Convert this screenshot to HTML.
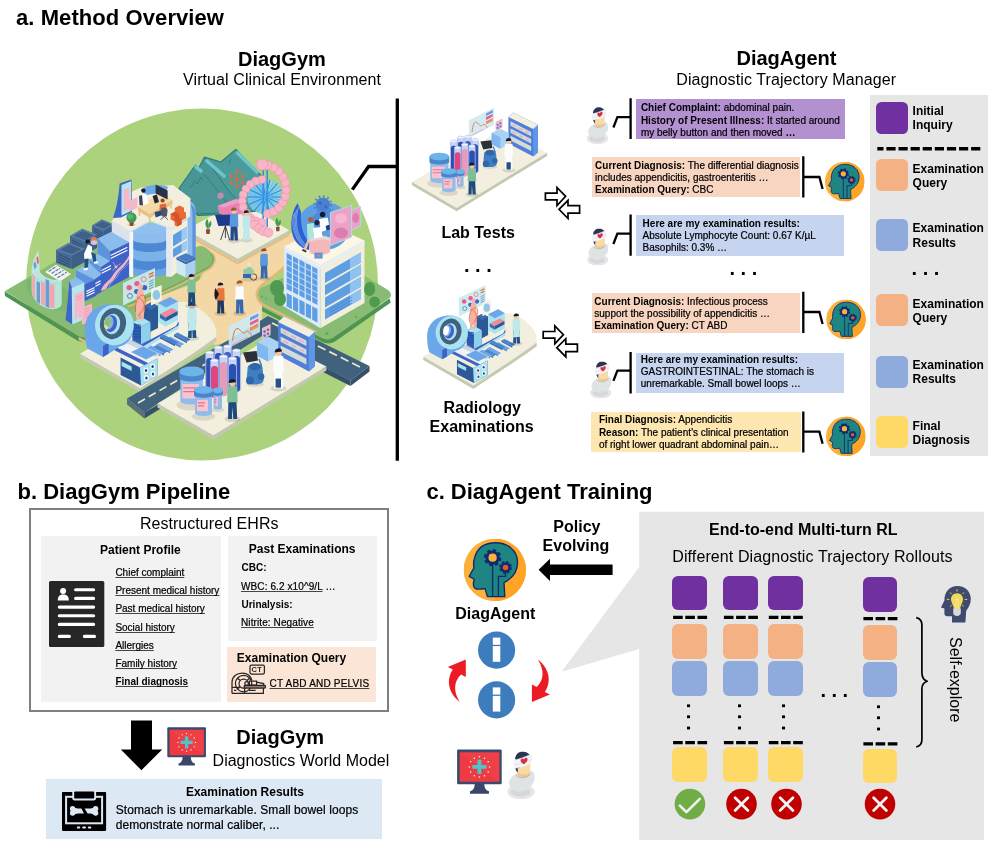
<!DOCTYPE html>
<html lang="en">
<head>
<meta charset="utf-8">
<title>DiagGym and DiagAgent - Method Overview</title>
<style>
html,body{margin:0;padding:0;background:#fff;}
body{width:997px;height:849px;position:relative;overflow:hidden;font-family:"Liberation Sans",sans-serif;color:#000;}
.t{position:absolute;white-space:nowrap;margin:0;}
#txt{position:absolute;left:0;top:0;width:997px;height:849px;will-change:transform;}
.r{position:absolute;}
svg{position:absolute;left:0;top:0;overflow:visible;}
u{text-decoration:underline;text-decoration-thickness:0.8px;text-underline-offset:0.6px;text-decoration-skip-ink:none;text-decoration-color:#444;}
.n{-webkit-text-stroke:0.22px #000;}
.n b{-webkit-text-stroke:0;}
</style>
</head>
<body>
<div class="r" style="left:636.00px;top:99.00px;width:208.60px;height:39.80px;background:#b391d1;"></div>
<div class="r" style="left:591.60px;top:156.80px;width:208.70px;height:40.20px;background:#f8d5c0;"></div>
<div class="r" style="left:636.00px;top:215.00px;width:208.40px;height:40.50px;background:#c6d4ef;"></div>
<div class="r" style="left:591.60px;top:292.80px;width:208.70px;height:40.20px;background:#f8d5c0;"></div>
<div class="r" style="left:636.00px;top:352.60px;width:208.20px;height:40.60px;background:#c6d4ef;"></div>
<div class="r" style="left:591.40px;top:411.90px;width:209.20px;height:40.00px;background:#fee6b0;"></div>
<div class="r" style="left:870.20px;top:95.10px;width:118.10px;height:361.20px;background:#e6e6e6;"></div>
<div class="r" style="left:876.20px;top:102.40px;width:32.00px;height:31.60px;background:#7030a0;border-radius:5.5px;"></div>
<div class="r" style="left:876.20px;top:159.40px;width:32.00px;height:31.60px;background:#f4b183;border-radius:5.5px;"></div>
<div class="r" style="left:876.20px;top:219.00px;width:32.00px;height:31.60px;background:#8faadc;border-radius:5.5px;"></div>
<div class="r" style="left:876.20px;top:294.20px;width:32.00px;height:31.60px;background:#f4b183;border-radius:5.5px;"></div>
<div class="r" style="left:876.20px;top:356.00px;width:32.00px;height:31.60px;background:#8faadc;border-radius:5.5px;"></div>
<div class="r" style="left:876.20px;top:416.40px;width:32.00px;height:31.60px;background:#ffd966;border-radius:5.5px;"></div>
<div class="r" style="left:29.2px;top:508.4px;width:356.2px;height:199.6px;border:2px solid #7f7f7f;"></div>
<div class="r" style="left:41.20px;top:536.30px;width:179.60px;height:165.40px;background:#f2f2f2;"></div>
<div class="r" style="left:227.90px;top:535.50px;width:149.00px;height:105.40px;background:#f2f2f2;"></div>
<div class="r" style="left:227.10px;top:647.10px;width:149.00px;height:54.90px;background:#fbe5d6;"></div>
<div class="r" style="left:46.30px;top:779.20px;width:335.50px;height:60.30px;background:#dde8f5;"></div>
<svg width="997" height="849" viewBox="0 0 997 849"><path d="M639.2 511.8H984.1V839.9H639.2V648.9L561.6 671.7L639.2 567Z" fill="#e6e6e6"/></svg>
<div class="r" style="left:672.30px;top:575.80px;width:34.80px;height:34.50px;background:#7030a0;border-radius:6px;"></div>
<div class="r" style="left:672.30px;top:624.00px;width:34.80px;height:34.50px;background:#f4b183;border-radius:6px;"></div>
<div class="r" style="left:672.30px;top:661.00px;width:34.80px;height:34.50px;background:#8faadc;border-radius:6px;"></div>
<div class="r" style="left:672.30px;top:747.40px;width:34.80px;height:34.50px;background:#ffd966;border-radius:6px;"></div>
<div class="r" style="left:723.10px;top:575.80px;width:34.80px;height:34.50px;background:#7030a0;border-radius:6px;"></div>
<div class="r" style="left:723.10px;top:624.00px;width:34.80px;height:34.50px;background:#f4b183;border-radius:6px;"></div>
<div class="r" style="left:723.10px;top:661.00px;width:34.80px;height:34.50px;background:#8faadc;border-radius:6px;"></div>
<div class="r" style="left:723.10px;top:747.40px;width:34.80px;height:34.50px;background:#ffd966;border-radius:6px;"></div>
<div class="r" style="left:768.00px;top:575.80px;width:34.80px;height:34.50px;background:#7030a0;border-radius:6px;"></div>
<div class="r" style="left:768.00px;top:624.00px;width:34.80px;height:34.50px;background:#f4b183;border-radius:6px;"></div>
<div class="r" style="left:768.00px;top:661.00px;width:34.80px;height:34.50px;background:#8faadc;border-radius:6px;"></div>
<div class="r" style="left:768.00px;top:747.40px;width:34.80px;height:34.50px;background:#ffd966;border-radius:6px;"></div>
<div class="r" style="left:862.60px;top:577.00px;width:34.80px;height:34.50px;background:#7030a0;border-radius:6px;"></div>
<div class="r" style="left:862.60px;top:625.20px;width:34.80px;height:34.50px;background:#f4b183;border-radius:6px;"></div>
<div class="r" style="left:862.60px;top:662.20px;width:34.80px;height:34.50px;background:#8faadc;border-radius:6px;"></div>
<div class="r" style="left:862.60px;top:748.60px;width:34.80px;height:34.50px;background:#ffd966;border-radius:6px;"></div>
<svg width="997" height="849" viewBox="0 0 997 849">
<g id="city">
<circle cx="202" cy="284.5" r="176" fill="#acd27d"/>
<path d="M5 291L60 259L120 226L200 262L200 300L130 344L84 341Z" fill="#88bb73" />
<path d="M4.6 291.2L79 336.6L85 338L85 342.5L78 341L5 296Z" fill="#4f9452" />
<path d="M79 337L85.5 340.5L85 343L78.5 340Z" fill="#e8b57c" />
<ellipse cx="50" cy="294" rx="26" ry="13" transform="rotate(28 50 294)" fill="#7db46b"/>
<path d="M253 297C254 291 260 288 268 285L330 255L388 290C392 293 392 297 388 299L334 337C330 340 326 340 322 338L260 306C254 303 252 300 253 297Z" fill="#88bb73" />
<path d="M256 304L322 338C326 340 330 340 334 337L389.5 298.5L390.8 302.5L335 341.5C331 344 326 344 322 342L258 309Z" fill="#4f9452" />
<path d="M180 262L200 236L240 262L296 230L300 252L262 285C256 291 256 297 262 303L262 335L215 345L190 318L140 304L196 282C204 278 206 268 200 262Z" fill="#f3d7a4" />
<path d="M118 300L150 280L196 247C202 244 207 248 212 253C216 258 215 264 210 268L190 279C172 289 150 298 128 306Z" fill="#88bb73" />
<path d="M128 306C150 298 172 289 190 279L210 268C215 264 216 258 212 253" fill="none" stroke="#e3b877" stroke-width="2.4"/>
<path d="M128 304.5C150 296.5 172 287.5 190 277.5L209 267C214 263 214.6 258 211 254" fill="none" stroke="#6fae64" stroke-width="1.6"/>
<path d="M300 256L262 285C255 291 255 298 262 304L316 332" fill="none" stroke="#e3b877" stroke-width="2.4"/>
<path d="M186 230L240 200L289.3 230.6L237.7 258.9Z" fill="#f3efdf" />
<path d="M186 230L237.7 258.9L289.3 230.6L289.3 233.6L237.7 262L186 233Z" fill="#c3cab5" />
<path d="M186 233L237.7 262L289.3 233.6L289.3 236L237.7 264.6L186 235.6Z" fill="#e8bd80" />
<path d="M179 188.5L195.4 165.2L198.8 168L204.6 157L220.9 162L235.8 149.3L264 178.5L266 210L232 214L198 215.5L190 208Z" fill="#4b9b9a" stroke="#2b7778" stroke-width="1.1" stroke-linejoin="round"/>
<path d="M204.6 157L228 190L248 212L196 214L190 208L179 188.5L195.4 165.2L198.8 168Z" fill="#4a9696" stroke="#2b7778" stroke-width="0.9" stroke-linejoin="round"/>
<path d="M207 161L224 176M196 167L201 171M237.5 153L257 172" fill="none" stroke="#6cc6ca" stroke-width="3.6" stroke-linecap="round"/>
<path d="M190 188L195 181L197 184L201 177L203 180M231 158L229 164M204 174L214 186L232 210" fill="none" stroke="#2f7d7d" stroke-width="0.9"/>
<g stroke="#e8683a" stroke-width="0.7" fill="#e8683a"><path d="M231 176L237 171L243 176L243 183L237 187L231 183ZM231 176L243 183M243 176L231 183M237 171V187" fill="none"/><circle cx="231" cy="176" r="1.2"/><circle cx="237" cy="171" r="1.2"/><circle cx="243" cy="176" r="1.2"/><circle cx="243" cy="183" r="1.2"/><circle cx="237" cy="187" r="1.2"/><circle cx="231" cy="183" r="1.2"/><circle cx="237" cy="179" r="1.2"/></g>
<circle cx="220.5" cy="195.8" r="3.2" fill="#d68bb8" opacity="0.85"/>
<path d="M217.6 206L236 199L242 201.5L242 214L224 216L219 213Z" fill="#e782b5" />
<path d="M217.6 206L236 199L242 201.5L224 207.5Z" fill="#f09fc7" />
<ellipse cx="265.8" cy="197" rx="18.6" ry="17.6" fill="#8fd2f2" opacity="0.75"/>
<g fill="none"><path d="M265.8 197.0L284.3 197.0" stroke="#2f86e6" stroke-width="1.15"/><path d="M265.8 197.0L283.8 200.9" stroke="#5fc4f5" stroke-width="1.15"/><path d="M265.8 197.0L282.5 204.6" stroke="#2f86e6" stroke-width="1.15"/><path d="M265.8 197.0L280.3 207.9" stroke="#5fc4f5" stroke-width="1.15"/><path d="M265.8 197.0L277.3 210.7" stroke="#2f86e6" stroke-width="1.15"/><path d="M265.8 197.0L273.8 212.8" stroke="#5fc4f5" stroke-width="1.15"/><path d="M265.8 197.0L269.9 214.1" stroke="#2f86e6" stroke-width="1.15"/><path d="M265.8 197.0L265.8 214.5" stroke="#5fc4f5" stroke-width="1.15"/><path d="M265.8 197.0L261.7 214.1" stroke="#2f86e6" stroke-width="1.15"/><path d="M265.8 197.0L257.8 212.8" stroke="#5fc4f5" stroke-width="1.15"/><path d="M265.8 197.0L254.3 210.7" stroke="#2f86e6" stroke-width="1.15"/><path d="M265.8 197.0L251.3 207.9" stroke="#5fc4f5" stroke-width="1.15"/><path d="M265.8 197.0L249.1 204.6" stroke="#2f86e6" stroke-width="1.15"/><path d="M265.8 197.0L247.8 200.9" stroke="#5fc4f5" stroke-width="1.15"/><path d="M265.8 197.0L247.3 197.0" stroke="#2f86e6" stroke-width="1.15"/><path d="M265.8 197.0L247.8 193.1" stroke="#5fc4f5" stroke-width="1.15"/><path d="M265.8 197.0L249.1 189.4" stroke="#2f86e6" stroke-width="1.15"/><path d="M265.8 197.0L251.3 186.1" stroke="#5fc4f5" stroke-width="1.15"/><path d="M265.8 197.0L254.3 183.3" stroke="#2f86e6" stroke-width="1.15"/><path d="M265.8 197.0L257.8 181.2" stroke="#5fc4f5" stroke-width="1.15"/><path d="M265.8 197.0L261.7 179.9" stroke="#2f86e6" stroke-width="1.15"/><path d="M265.8 197.0L265.8 179.5" stroke="#5fc4f5" stroke-width="1.15"/><path d="M265.8 197.0L269.9 179.9" stroke="#2f86e6" stroke-width="1.15"/><path d="M265.8 197.0L273.8 181.2" stroke="#5fc4f5" stroke-width="1.15"/><path d="M265.8 197.0L277.3 183.3" stroke="#2f86e6" stroke-width="1.15"/><path d="M265.8 197.0L280.3 186.1" stroke="#5fc4f5" stroke-width="1.15"/><path d="M265.8 197.0L282.5 189.4" stroke="#2f86e6" stroke-width="1.15"/><path d="M265.8 197.0L283.8 193.1" stroke="#5fc4f5" stroke-width="1.15"/></g>
<path d="M263.2 170V227M267.2 170V227" fill="none" stroke="#3b8fe0" stroke-width="1.6"/>
<circle cx="261.9" cy="179.6" r="4.0" fill="#f7b5c6" stroke="#f08fae" stroke-width="0.6"/><circle cx="255.7" cy="181.1" r="4.0" fill="#f7b5c6" stroke="#f08fae" stroke-width="0.6"/><circle cx="250.3" cy="184.3" r="4.0" fill="#f7b5c6" stroke="#f08fae" stroke-width="0.6"/><circle cx="246.0" cy="189.0" r="4.0" fill="#f7b5c6" stroke="#f08fae" stroke-width="0.6"/><circle cx="243.2" cy="194.7" r="4.0" fill="#f7b5c6" stroke="#f08fae" stroke-width="0.6"/><circle cx="242.3" cy="201.0" r="4.0" fill="#f7b5c6" stroke="#f08fae" stroke-width="0.6"/><circle cx="243.2" cy="207.3" r="4.0" fill="#f7b5c6" stroke="#f08fae" stroke-width="0.6"/><circle cx="246.0" cy="213.0" r="4.0" fill="#f7b5c6" stroke="#f08fae" stroke-width="0.6"/><circle cx="250.3" cy="217.7" r="4.0" fill="#f7b5c6" stroke="#f08fae" stroke-width="0.6"/><circle cx="255.7" cy="220.9" r="4.0" fill="#f7b5c6" stroke="#f08fae" stroke-width="0.6"/><circle cx="261.9" cy="222.4" r="4.0" fill="#f7b5c6" stroke="#f08fae" stroke-width="0.6"/>
<circle cx="250.5" cy="221.0" r="4.6" fill="#f7b5c6" stroke="#f08fae" stroke-width="0.6"/><circle cx="254.5" cy="225.0" r="4.6" fill="#f7b5c6" stroke="#f08fae" stroke-width="0.6"/><circle cx="259.0" cy="228.5" r="4.6" fill="#f7b5c6" stroke="#f08fae" stroke-width="0.6"/><circle cx="263.6" cy="231.0" r="4.6" fill="#f7b5c6" stroke="#f08fae" stroke-width="0.6"/><circle cx="268.2" cy="232.6" r="4.6" fill="#f7b5c6" stroke="#f08fae" stroke-width="0.6"/>
<circle cx="267.7" cy="213.7" r="4.3" fill="#f7b5c6" stroke="#f08fae" stroke-width="0.6"/><circle cx="273.6" cy="211.6" r="4.3" fill="#f7b5c6" stroke="#f08fae" stroke-width="0.6"/><circle cx="278.8" cy="207.8" r="4.3" fill="#f7b5c6" stroke="#f08fae" stroke-width="0.6"/><circle cx="282.8" cy="202.5" r="4.3" fill="#f7b5c6" stroke="#f08fae" stroke-width="0.6"/><circle cx="285.3" cy="196.3" r="4.3" fill="#f7b5c6" stroke="#f08fae" stroke-width="0.6"/><circle cx="286.2" cy="189.5" r="4.3" fill="#f7b5c6" stroke="#f08fae" stroke-width="0.6"/><circle cx="285.3" cy="182.7" r="4.3" fill="#f7b5c6" stroke="#f08fae" stroke-width="0.6"/><circle cx="282.8" cy="176.5" r="4.3" fill="#f7b5c6" stroke="#f08fae" stroke-width="0.6"/><circle cx="278.8" cy="171.2" r="4.3" fill="#f7b5c6" stroke="#f08fae" stroke-width="0.6"/><circle cx="273.6" cy="167.4" r="4.3" fill="#f7b5c6" stroke="#f08fae" stroke-width="0.6"/><circle cx="267.7" cy="165.3" r="4.3" fill="#f7b5c6" stroke="#f08fae" stroke-width="0.6"/><circle cx="261.5" cy="165.0" r="4.3" fill="#f7b5c6" stroke="#f08fae" stroke-width="0.6"/>
<circle cx="262" cy="164.5" r="5.6" fill="#f7b5c6" stroke="#f08fae" stroke-width="0.6"/>
<path d="M205.9 229.2H210.1L209.7 233.9H206.3Z" fill="#8b4a34"/><path d="M208.0 229.2C204.2 225.4 205.2 221.6 207.1 218.8C208.9 221.6 208.9 225.4 208.0 229.2ZM208.0 229.2C211.8 226.3 211.8 223.5 210.8 220.7C208.9 222.6 208.0 225.4 208.0 229.2Z" fill="#3f9a55"/>
<path d="M275.9 227.1H279.7L279.3 231.3H276.3Z" fill="#8b4a34"/><path d="M277.8 227.1C274.4 223.7 275.2 220.3 276.9 217.8C278.7 220.3 278.7 223.7 277.8 227.1ZM277.8 227.1C281.2 224.6 281.2 222.0 280.4 219.4C278.7 221.2 277.8 223.7 277.8 227.1Z" fill="#3f9a55"/>
<path d="M215 215L231.4 214.5L233.4 225.6L218.4 226Z" fill="#1f3a8a" />
<path d="M225.4 226L220.6 240M225.4 226L229.6 240M225.4 226V238" fill="none" stroke="#1a1f33" stroke-width="0.8"/>
<ellipse cx="234" cy="240.6" rx="6.53" ry="2.54" fill="#000" opacity="0.12"/><path d="M230.73 224.76L230.37 240.60H233.64L234.00 230.70L234.73 240.60H237.99L237.27 224.76Z" fill="#234a86"/><path d="M230.01 214.20Q234.00 211.56 237.99 214.20L238.36 226.74H229.64Z" fill="#5b97dc"/><circle cx="234.00" cy="210.90" r="2.81" fill="#f2c6a0"/><path d="M231.03 210.90A2.97 2.97 0 0 1 236.97 210.24Z" fill="#9c5a33"/>
<ellipse cx="246.4" cy="240.2" rx="5.94" ry="2.31" fill="#000" opacity="0.12"/><path d="M243.43 225.80L243.10 240.20H246.07L246.40 231.20L247.06 240.20H250.03L249.37 225.80Z" fill="#bfe8ea"/><path d="M242.77 216.20Q246.40 213.80 250.03 216.20L250.36 227.60H242.44Z" fill="#bfe8ea"/><circle cx="246.40" cy="213.20" r="2.55" fill="#f2c6a0"/><path d="M243.70 213.20A2.70 2.70 0 0 1 249.10 212.60Z" fill="#141a2e"/>
<path d="M92 225.5L101.9 219.4L114.0 224.4L114.0 235.4L104.1 241.4L92 236.5Z" fill="#476a92" />
<path d="M92 225.5L101.9 219.4L114.0 224.4L104.1 230.4Z" fill="#5a7fa8" />
<path d="M104.1 230.4L114.0 224.4L114.0 235.4L104.1 241.4Z" fill="#3d5e86" />
<path d="M94.6 225.3L102.3 220.9L111.4 224.8L104.1 229.0Z" fill="#3f6189" />
<path d="M94 228.8L103.0 233.8" fill="none" stroke="#2c4a70" stroke-width="0.9"/>
<path d="M94 231.0L103.0 235.9" fill="none" stroke="#2c4a70" stroke-width="0.9"/>
<path d="M94 233.2L103.0 238.2" fill="none" stroke="#2c4a70" stroke-width="0.9"/>
<path d="M94 235.4L103.0 240.3" fill="none" stroke="#2c4a70" stroke-width="0.9"/>
<path d="M70 236L82.2 228.8L97.0 234.7L97.0 247.7L84.8 254.8L70 249.0Z" fill="#476a92" />
<path d="M70 236L82.2 228.8L97.0 234.7L84.8 241.8Z" fill="#5a7fa8" />
<path d="M84.8 241.8L97.0 234.7L97.0 247.7L84.8 254.8Z" fill="#3d5e86" />
<path d="M73.2 235.7L82.7 230.5L93.8 235.2L84.8 240.2Z" fill="#3f6189" />
<path d="M72 239.9L83.5 245.8" fill="none" stroke="#2c4a70" stroke-width="0.9"/>
<path d="M72 242.5L83.5 248.3" fill="none" stroke="#2c4a70" stroke-width="0.9"/>
<path d="M72 245.1L83.5 250.9" fill="none" stroke="#2c4a70" stroke-width="0.9"/>
<path d="M72 247.7L83.5 253.6" fill="none" stroke="#2c4a70" stroke-width="0.9"/>
<path d="M56 250L69.0 242.8L85.0 248.7L85.0 261.7L72.0 268.9L56 263.0Z" fill="#476a92" />
<path d="M56 250L69.0 242.8L85.0 248.7L72.0 255.8Z" fill="#5a7fa8" />
<path d="M72.0 255.8L85.0 248.7L85.0 261.7L72.0 268.9Z" fill="#3d5e86" />
<path d="M59.5 249.7L69.6 244.5L81.5 249.2L72.0 254.2Z" fill="#3f6189" />
<path d="M58 253.9L70.5 259.8" fill="none" stroke="#2c4a70" stroke-width="0.9"/>
<path d="M58 256.5L70.5 262.4" fill="none" stroke="#2c4a70" stroke-width="0.9"/>
<path d="M58 259.1L70.5 265.0" fill="none" stroke="#2c4a70" stroke-width="0.9"/>
<path d="M58 261.7L70.5 267.6" fill="none" stroke="#2c4a70" stroke-width="0.9"/>
<path d="M45 272L56 264.8L71 274L60 281.6Z" fill="#f6f3e4" />
<path d="M48.6 271.4L56.6 266.4M51.6 273.4L60 268.2M54.6 275.6L63.4 270.2M57.4 277.8L66.6 272.2" fill="none" stroke="#4f79c8" stroke-width="1.2" stroke-dasharray="3.5 1"/>
<path d="M31.6 272C31.6 262 36 254 38.6 250.6L40 272C44 278 54 281 61.7 280L61.7 303C61.7 310 50 311 42 306C35 302 31.6 296 31.6 290Z" fill="#bfe8e4" opacity="0.92"/>
<path d="M31.6 272C33 279 46 286 61.7 283" fill="none" stroke="#9fdcd6" stroke-width="1"/>
<path d="M32.4 273.6L35 277V300L32.4 295ZM41 281.4L45 283.4V306L41 304ZM49.6 284.6L54.4 285V308L49.6 307.6Z" fill="#f5a3ad" />
<path d="M36.6 281L40 282.4V304L36.6 301.6ZM45.6 279L49.2 280.4V308L45.6 306.6Z" fill="#6b9bd6" />
<path d="M33.4 264L35.4 261L36.6 266.6L34.6 269.6Z" fill="#6b9bd6" />
<path d="M36.4 258L38 256L38.8 262.6L37.4 264.6Z" fill="#e8596e" />
<path d="M111.7 221L130 231.5V276L122 272L112 243Z" fill="#dde2ea" />
<path d="M97.7 238.6L111.3 231.8L129.2 242.3L110 251.6Z" fill="#8bbcee" />
<path d="M97.7 238.6L110 251.6V262L97.7 254Z" fill="#5c93dc" />
<path d="M110 251.6L129.2 242.3V277L100.8 292L100.8 267L110 261Z" fill="#3e62c7" />
<path d="M89.6 259.6L97.7 254L110 261L100.8 267Z" fill="#8bbcee" />
<path d="M89.6 259.6L100.8 267V276L89.6 268.5Z" fill="#5c93dc" />
<path d="M76 270.2L89.6 263L101.4 274.5L94.6 279.4Z" fill="#8bbcee" />
<path d="M76 270.2L94.6 279.4V290L76 281Z" fill="#5c93dc" />
<path d="M94.6 279.4L101.4 274.5V292L94.6 296Z" fill="#3e62c7" />
<path d="M69.2 280.7L76 277L86 283.5L84.7 284.4L72 288Z" fill="#8bbcee" />
<path d="M84.7 284.4L94.6 290V296L84.7 301Z" fill="#3e62c7" />
<path d="M84.7 284.4L95.8 279.5V296L84.7 301Z" fill="#3e62c7" />
<path d="M110.6 255.4L127.4 247.2M110.6 258.4L127.4 250.2M101.6 270.6L111 265.6M101.6 273.2L111 268.4M95.4 283.6L100.6 280.8M95.4 286.2L100.6 283.4M86.4 291.4L94.6 287.4M86.4 293.8L94.6 289.8M86.4 296.2L94.6 292.2" fill="none" stroke="#fff" stroke-width="1.1"/>
<path d="M100.8 291C103 283 110 281 113 275C116 269 123 266 129 255.4L129.2 259C124 268 119 270 116 276C113 282 108 283 106.4 289Z" fill="#f5b3c6" />
<path d="M108.6 287.6C110 282 116 280 118 275C120 270 126 267 129.2 262" fill="none" stroke="#8fb4ee" stroke-width="0.8"/>
<path d="M113 262L116 267L120.6 263.4M116 267L112.6 270.6" fill="none" stroke="#f5b3c6" stroke-width="0.7"/>
<circle cx="116" cy="267" r="1.4" fill="#f5b3c6"/>
<path d="M84 254L88 244.6L92 246.6L92.4 258.6L84.4 259.4Z" fill="#fbfcfe"/><path d="M84.6 259L88.6 258.6L88 267.6L84.4 268.6ZM91 252L95.6 254L96.4 261.6L93.4 262Z" fill="#245088"/><path d="M83.4 268.6L87.6 267.4L88 269.8L84 270.6ZM93.6 262L97.6 261L98 263L94.6 264Z" fill="#fff"/><circle cx="87.6" cy="241.4" r="2.2" fill="#141a2e"/><ellipse cx="94" cy="241" rx="3.4" ry="4" fill="#e57a5a"/><ellipse cx="94" cy="242.6" rx="3.2" ry="2.4" fill="#c9c4e8"/>
<path d="M69.2 280.7L72 288L72.3 324.6L65.5 320C67 308 68.6 294 69.2 280.7Z" fill="#3d66c9" />
<path d="M71.7 288L84 283L84.7 319L72.3 324.6Z" fill="#b5e6f2" />
<path d="M74.6 294.4L83.6 290.4V316L78.6 318.4L78 312L76.6 319.6L74.6 320.4Z" fill="#f5b8c8" />
<path d="M81.8 307.6L92 303.6V319.6C90 322.6 84 324.6 81.8 324.4Z" fill="#f5b8c8" />
<path d="M84.4 310L90 307.6M84.4 312.6L90 310.2M84.4 315.2L90 312.8M84.4 317.8L90 315.4M76.6 297.4L82 295M76.6 300L82 297.6" fill="none" stroke="#e890aa" stroke-width="0.7"/>
<path d="M132.4 229C132.4 223 167 223 167 229L167 272C167 278.5 132.4 278.5 132.4 272Z" fill="#6ba4e6" />
<path d="M132.4 229C132.4 235 167 235 167 229V239C167 245 132.4 245 132.4 239Z" fill="#8dbdee" />
<path d="M132.4 239C132.4 245 167 245 167 239V247.6C167 253.6 132.4 253.6 132.4 247.6Z" fill="#4d88d2" />
<path d="M132.4 247.6C132.4 253.6 167 253.6 167 247.6V257C167 263 132.4 263 132.4 257Z" fill="#7cb2ea" />
<path d="M132.4 257C132.4 263 167 263 167 257V265.6C167 271.6 132.4 271.6 132.4 265.6Z" fill="#4d88d2" />
<ellipse cx="149.7" cy="229" rx="17.3" ry="5.8" fill="#8fc0f0"/>
<path d="M129.4 231.4H133.2V277H129.4Z" fill="#f4f6fa" />
<path d="M166.4 226L172 229L188 219L188 263L172 276.5L166.4 276.5Z" fill="#f3efdf" />
<path d="M166.4 226H171.6V276.5H166.4Z" fill="#e4e9f2" />
<path d="M187.5 201C193 201 195.6 206 195.6 212V262L187.5 266Z" fill="#8dbdee" />
<path d="M190.8 204C193.6 206 195.6 209 195.6 213V262L192.4 264V212Z" fill="#5b93dc" />
<path d="M173 235L187 226.5V238L173 246.5ZM173 249L187 240.5V249L173 257.5Z" fill="#5e9ee2" />
<path d="M181.6 229.8V241.4L187 238V226.5ZM181.6 243.8V252.4L187 249V240.5Z" fill="#9fcbf3" />
<path d="M111.7 221.2L132 191.5L141 187.5L173 185L190.5 198.3L190 216L172 229L150.2 220.6L130 231.6Z" fill="#f3efdf" />
<path d="M111.7 221.2L130 231.6L150.2 220.6L172 229L190 216" fill="none" stroke="#dfe4ea" stroke-width="1.4"/>
<path d="M141 190C146 184.6 160 183.6 168 187L166 192L146 195Z" fill="#6fa8e8" />
<path d="M113 218C117.6 206 119 192 119.6 183.6L131.4 179.4L132 212L121 217.6Z" fill="#3d66c9" />
<path d="M121.5 185L131 181.2V211L121.5 215.5Z" fill="#b5e6f2" />
<path d="M123.6 190L129.6 187.4V208L123.6 211Z" fill="#f5b8c8" />
<path d="M129 201L137.5 197V208L129 212Z" fill="#f5b8c8" />
<path d="M138 207L160 193L172.5 200L150 214Z" fill="#f5d9a6" />
<path d="M138 207L150 214V218L138 211ZM150 214L172.5 200V204L150 218Z" fill="#e8c184" />
<path d="M139.5 211V216M149.6 217V221.5M171 204.5V208.5" fill="none" stroke="#e8c184" stroke-width="1.6"/>
<path d="M155.6 184.6L167.6 190.4V199.4L155.6 193.6Z" fill="#27324a" />
<path d="M152.6 196L156.8 194.6L159 202L154.8 203.4Z" fill="#1d2434" />
<circle cx="143.4" cy="190.6" r="2.2" fill="#161c2e"/><path d="M140 195L146 193.5L149 203L142 206Z" fill="#fbfcfe"/><path d="M139 196L142 195L143 205.5L139.5 205Z" fill="#3a4156"/>
<circle cx="162.6" cy="200.6" r="2.1" fill="#8a4a2c"/><path d="M159.6 204.6L166 203.4L166.6 212.4L159.6 213.4Z" fill="#e4673a"/><path d="M154.6 212L162 210.6L162.6 215L155.6 217.4Z" fill="#254a7c"/><path d="M161 209.6C161 206.6 167.6 206.6 167.6 210.4L166.8 216.6H162Z" fill="#4f5666"/><path d="M160.4 219.6L164.4 216.6L168 219.6M164.4 214V217" stroke="#4f5666" stroke-width="0.9" fill="none"/>
<path d="M170.6 214L174.8 211.8L174.8 208L179.6 205.6L184 207.8V211.6L186 212.6V218L181.6 220.4V224.2L177 226.4L174.6 225.2V221.4L170.6 219.4Z" fill="#e8683a" />
<path d="M174.8 211.8L179 214V217.8L181.6 219.2V224.2L177 226.4V222L174.6 221V216.6L170.6 214.6V214Z" fill="#d2542a" />
<ellipse cx="131.6" cy="224.6" rx="4.4" ry="1.6" fill="#000" opacity="0.1"/><path d="M129.3 221H133.9L133.3 226H129.9Z" fill="#8b4a34"/><circle cx="131.5" cy="217.6" r="5" fill="#3f9a55"/><circle cx="130.5" cy="216.4" r="2.6" fill="#5ab56c"/>
<path d="M176.4 257.4L186 253.2L195.4 257.6L185.8 262Z" fill="#4a7cc4" />
<path d="M176.4 257.4L185.8 262V277.6L176.4 273Z" fill="#cfe9f0" />
<path d="M185.8 262L195.4 257.6V273.4L185.8 277.6Z" fill="#a8d0ee" />
<path d="M176.4 257.4L185.8 262L195.4 257.6V259.8L185.8 264.2L176.4 259.6Z" fill="#3b68b0" />
<path d="M284.3 246.5L320.9 265.4L320.4 328.2L283.2 306Z" fill="#dfeaf8" />
<path d="M320.9 265.4L364.5 240.6L364.5 303L320.4 328.2Z" fill="#f2eedd" />
<path d="M284.3 246.5L328 224L364.5 240.6L320.9 265.4Z" fill="#fbf7e4" />
<path d="M284.3 246.5L320.9 265.4L364.5 240.6L364.5 243.4L320.9 268.6L284.3 249.6Z" fill="#e6eef8" />
<path d="M286.6 253.0L291.8 255.7V291.7L286.6 289.0Z" fill="#5e9ee2" />
<path d="M286.6 293.0L291.8 295.7V309.2L286.6 306.5Z" fill="#5e9ee2" />
<path d="M293.0 256.3L298.2 259.0V295.0L293.0 292.3Z" fill="#5e9ee2" />
<path d="M293.0 296.3L298.2 299.0V312.5L293.0 309.8Z" fill="#5e9ee2" />
<path d="M299.4 259.6L304.6 262.3V298.3L299.4 295.6Z" fill="#5e9ee2" />
<path d="M299.4 299.6L304.6 302.3V315.8L299.4 313.1Z" fill="#5e9ee2" />
<path d="M305.8 262.9L311.0 265.6V301.6L305.8 298.9Z" fill="#5e9ee2" />
<path d="M305.8 302.9L311.0 305.6V319.1L305.8 316.4Z" fill="#5e9ee2" />
<path d="M312.2 266.2L317.4 268.9V304.9L312.2 302.2Z" fill="#5e9ee2" />
<path d="M312.2 306.2L317.4 308.9V322.4L312.2 319.7Z" fill="#5e9ee2" />
<path d="M285.6 258.1L319.6 275.6" fill="none" stroke="#cfe2f7" stroke-width="0.9"/>
<path d="M285.6 264.2L319.6 281.7" fill="none" stroke="#cfe2f7" stroke-width="0.9"/>
<path d="M285.6 270.3L319.6 287.8" fill="none" stroke="#cfe2f7" stroke-width="0.9"/>
<path d="M285.6 276.4L319.6 293.9" fill="none" stroke="#cfe2f7" stroke-width="0.9"/>
<path d="M285.6 282.5L319.6 300.0" fill="none" stroke="#cfe2f7" stroke-width="0.9"/>
<path d="M325 273.0L361 252.4V262.4L325 283.0Z" fill="#5e9ee2" />
<path d="M350 258.7L361 252.4V262.4L350 268.7Z" fill="#8ec2f2" />
<path d="M325 285.2L361 264.6V274.6L325 295.2Z" fill="#5e9ee2" />
<path d="M350 270.9L361 264.6V274.6L350 280.9Z" fill="#8ec2f2" />
<path d="M325 297.4L361 276.8V286.8L325 307.4Z" fill="#5e9ee2" />
<path d="M350 283.1L361 276.8V286.8L350 293.1Z" fill="#8ec2f2" />
<path d="M325 309.6L361 289.0V299.0L325 319.6Z" fill="#5e9ee2" />
<path d="M350 295.3L361 289.0V299.0L350 305.3Z" fill="#8ec2f2" />
<path d="M330 309.4L352 297M330 312.4L352 300M330 315.4L352 303" fill="none" stroke="#4a86d4" stroke-width="0.9"/>
<ellipse cx="324" cy="226" rx="26.5" ry="24" fill="#5d9fe2"/>
<ellipse cx="329" cy="220" rx="17" ry="10" fill="#4d8ad8"/>
<path d="M297.6 203C290 214 289 232 296 242C300 247 305 249.6 309 250L310 243C304 238 300 226 301 212Z" fill="#2c5fd0" />
<path d="M298.6 207.0C294.0 222.0 297.0 238.0 307.0 246.0" fill="none" stroke="#8fb8f5" stroke-width="0.7"/>
<path d="M297.1 209.2C292.8 222.6 296.0 238.4 306.2 246.6" fill="none" stroke="#8fb8f5" stroke-width="0.7"/>
<path d="M295.6 211.4C291.6 223.2 295.0 238.8 305.4 247.2" fill="none" stroke="#8fb8f5" stroke-width="0.7"/>
<path d="M294.1 213.6C290.4 223.8 294.0 239.2 304.6 247.8" fill="none" stroke="#8fb8f5" stroke-width="0.7"/>
<circle cx="322.8" cy="204.6" r="7.2" fill="#4c7fd1"/>
<circle cx="322.8" cy="204.6" r="8.4" fill="none" stroke="#4c7fd1" stroke-width="2" stroke-dasharray="1.6 2.8"/>
<circle cx="320" cy="203" r="1.6" fill="#3a66b8"/><circle cx="326" cy="207" r="1.4" fill="#3a66b8"/>
<path d="M351 210.6L360.6 206.6V226L351 230.4Z" fill="#eba2c6" stroke="#a8e0e6" stroke-width="0.9"/>
<path d="M330.4 212.4L351.6 205.4V237L330.4 245.6Z" fill="#eba2c6" stroke="#a8e0e6" stroke-width="1"/>
<ellipse cx="341" cy="218.4" rx="6" ry="5" fill="#f3b6d3"/><ellipse cx="341" cy="233" rx="7" ry="5.4" fill="#dc7db0"/><ellipse cx="355.6" cy="218" rx="3.4" ry="5" fill="#dc7db0"/>
<path d="M309 239.6C309 234 330 234 330.4 239.6L330 252C326 255.6 313 256 309.6 252.6Z" fill="#f5b8b8" />
<path d="M309 239.6C312 236 326 235 330.4 238L330 241C324 238.6 314 239.6 309 242Z" fill="#e4d8dc" />
<circle cx="310.6" cy="219.6" r="2.6" fill="#a8623a"/><path d="M307 224L314 223L313.6 238L307.4 240Z" fill="#a8e6e0"/><path d="M307.4 240L310 239L306 250.6L303.6 249.6Z" fill="#f2c6a0"/><path d="M302.6 249L306.6 251L306 252.6L302 250.6Z" fill="#1d2434"/>
<circle cx="322.6" cy="214.4" r="2.7" fill="#141a2e"/><path d="M319 219L327.6 217.6L330 229L321 232Z" fill="#fbfcfe"/><path d="M325.6 226L329.6 224.6L330 229.6L326.6 230.6Z" fill="#1f3a8a"/>
<circle cx="317" cy="222.6" r="2.6" fill="#1c2340"/><path d="M313 228L321 227L322.6 237L314 238.6Z" fill="#fbfcfe"/>
<path d="M314.4 252.6H322.6V258.6H314.4Z" fill="#5b97dc" />
<circle cx="318.5" cy="255.6" r="1.2" fill="#e57aa8"/>
<g fill="#4f9a50"><ellipse cx="277" cy="288" rx="7" ry="8"/><ellipse cx="280" cy="299" rx="6" ry="7"/><ellipse cx="369.6" cy="289" rx="5.6" ry="7"/><ellipse cx="374.6" cy="302" rx="5.4" ry="5.4"/></g>
<g fill="#5fae5a"><circle cx="262" cy="296.6" r="1.2"/><circle cx="266" cy="298.6" r="1"/><circle cx="327" cy="333.6" r="1.6"/><circle cx="356" cy="317" r="1.2"/></g>
<g id="mrigrp">
<path d="M80.2 354C84 350 150 316 172 304C184 298 196 305 206 314C214 321 218 330 216 337C200 350 160 375 140.4 388.4Z" fill="#f3efdf" />
<path d="M80.2 354L140.4 388.4C160 375 200 350 216 337L216.6 341C200 354 160 379.4 140.4 392.6L80.2 358Z" fill="#c5cab3" />
<path d="M123 283L155 268V290L123 305.6Z" fill="#c9ebe8" opacity="0.93"/>
<g><circle cx="129.2" cy="287.6" r="2.7" fill="#e85a9a"/><circle cx="137" cy="283.6" r="2.7" fill="#e85a9a"/><circle cx="143.6" cy="279.2" r="2.5" fill="none" stroke="#e87aa8" stroke-width="1"/><circle cx="130" cy="296" r="2.5" fill="none" stroke="#4f79c8" stroke-width="0.9"/><circle cx="136.6" cy="291.6" r="2.5" fill="#3e62c7"/><circle cx="144.6" cy="287.6" r="2.6" fill="#3e62c7"/><path d="M149 274.6L153.6 272.4M149 277.4L153.6 275.2" stroke="#e8683a" stroke-width="1.3"/><path d="M149 282L153.6 279.6M149 284.4L153.6 282M149 286.8L153.6 284.4M149 289.2L153.6 286.8" stroke="#4f79c8" stroke-width="0.8"/></g>
<path d="M144 306L151 302.4L158 306V328L150 332L144 328Z" fill="#2c5896" />
<path d="M144 306L151 302.4L158 306L151 310Z" fill="#3a6ab0" />
<path d="M158 303L170 297L178 301.6V320L166 326.4L158 322Z" fill="#a9e2f0" />
<path d="M158 303L170 297L178 301.6L166 307.6Z" fill="#6ba6e8" />
<path d="M160 314L172 308L177.6 311L165.6 317.4Z" fill="#f08a98" />
<path d="M160 314L165.6 317.4V321.4L160 318Z" fill="#3a6ab0" />
<path d="M165.6 317.4L177.6 311V315L165.6 321.4Z" fill="#2c5896" />
<path d="M151 289.6L161.6 285V300.6L151 305.4Z" fill="#f6f3e4" />
<ellipse cx="156.4" cy="295" rx="3.8" ry="5" fill="#8fc6e8"/>
<path d="M132.4 322L142 317.4L150.4 322V340L141 344.6L132.4 340Z" fill="#2f5fb4" />
<path d="M132.4 322L142 317.4L150.4 322L141 326.6Z" fill="#a9e2f0" />
<path d="M141 326.6L150.4 322V340L141 344.6Z" fill="#8fd0ec" />
<path d="M132.4 325H141M132.4 328H141M132.4 331H141M132.4 334H141M132.4 337H141" fill="none" stroke="#244a94" stroke-width="0.9"/>
<path d="M137.6 290.6C139.6 288 142.6 288.6 143.6 291.6L144.6 306C144.6 312 143.6 318 142.6 320.6H140.6L140 310L139 320H136.6C135.4 312 135.4 298 137.6 290.6Z" fill="#f5b3a8"/><circle cx="140.4" cy="286.6" r="2.6" fill="#f5b3a8"/><path d="M135.6 312C134 302 140 292 144.6 296C147.6 300 143 312 138 316M137 297C142 298 146 304 144 312" fill="none" stroke="#e8683a" stroke-width="0.9"/>
<path d="M141 344.6L176 326L178.6 321L178.6 325.6L141.6 347.6L132 342.4V340Z" fill="#3e62c7" />
<path d="M141.6 347.6L178.6 325.6V328.6L141.6 350.4L132 345V342.4Z" fill="#a9e2f0" />
<path d="M174 334.6L177.6 332.6L190.6 339.4L187.0 341.4Z" fill="#4a84cc" />
<path d="M174 334.6L187.0 341.4V343.2L174 336.4Z" fill="#3568b0" />
<path d="M166.6 338.6L170.2 336.6L184.2 343.9L180.6 345.9Z" fill="#6ba6e8" />
<path d="M166.6 338.6L180.6 345.9V347.7L166.6 340.4Z" fill="#4a84cc" />
<path d="M160 336.6L163.6 334.6L178.6 342.4L175.0 344.4Z" fill="#4a84cc" />
<path d="M160 336.6L175.0 344.4V346.2L160 338.4Z" fill="#3568b0" />
<path d="M156.4 344.4L160.0 342.4L173.6 349.5L170.0 351.5Z" fill="#6ba6e8" />
<path d="M156.4 344.4L170.0 351.5V353.3L156.4 346.2Z" fill="#4a84cc" />
<path d="M152 347.4L155.6 345.4L167.6 351.6L164.0 353.6Z" fill="#4a84cc" />
<path d="M152 347.4L164.0 353.6V355.4L152 349.2Z" fill="#3568b0" />
<path d="M147.4 347.6L151.0 345.6L164.0 352.4L160.4 354.4Z" fill="#6ba6e8" />
<path d="M147.4 347.6L160.4 354.4V356.2L147.4 349.4Z" fill="#4a84cc" />
<path d="M106 340L112 336.6L156 357L148 361.6Z" fill="#eef2f7" />
<path d="M108.6 343.6L150 364L148 367L106 346Z" fill="#3e62c7" />
<path d="M112 336.6L118 334L160 354L156 357Z" fill="#c9d6e4" />
<path d="M120.6 357.6L140 367.6L157.4 358.6L157.4 376L141 385.6L120.6 375Z" fill="#2c5896" />
<path d="M140 367.6L157.4 358.6V376L141 385.6Z" fill="#a9e2f0" />
<path d="M131 352L146 359.6L157.6 353.6L143 346.6Z" fill="#6ba6e8" />
<path d="M121.6 361.6L131.6 366.6V371L121.6 366Z" fill="#a9e2f0" />
<ellipse cx="146" cy="370.6" rx="2.4" ry="2.9" fill="#f4fbff"/><ellipse cx="146" cy="370.6" rx="1.2" ry="1.5" fill="#27446e"/><ellipse cx="152.6" cy="366.6" rx="2.4" ry="2.9" fill="#f4fbff"/><ellipse cx="152.6" cy="366.6" rx="1.2" ry="1.5" fill="#27446e"/><ellipse cx="146.4" cy="378" rx="2.4" ry="2.9" fill="#f4fbff"/><ellipse cx="146.4" cy="378" rx="1.2" ry="1.5" fill="#27446e"/><ellipse cx="153" cy="374" rx="2.4" ry="2.9" fill="#f4fbff"/><ellipse cx="153" cy="374" rx="1.2" ry="1.5" fill="#27446e"/>
<path d="M84.8 330C84.8 312 98 304.3 112 304.3C126 304.3 133.6 314 133.6 326C133.6 338 127 345 119.6 346.6L108.4 354L103 357L87.4 348.6C85.6 343 84.8 337 84.8 330Z" fill="#6ba6e8" />
<path d="M103 357V346L108.6 342.6V353.6Z" fill="#3e62c7" />
<ellipse cx="114.4" cy="325" rx="19.4" ry="20.2" transform="rotate(10 114.4 325)" fill="#a9e2f0"/>
<ellipse cx="113" cy="323.6" rx="13" ry="15.6" transform="rotate(10 113 323.6)" fill="#41617f"/>
<ellipse cx="112.4" cy="324" rx="7.8" ry="10.4" transform="rotate(10 112.4 324)" fill="#a9e2f0"/>
<ellipse cx="111" cy="323.6" rx="6" ry="8.6" transform="rotate(10 111 323.6)" fill="#3e62c7"/>
<ellipse cx="108.6" cy="322.6" rx="4.8" ry="7" transform="rotate(10 108.6 322.6)" fill="#7fb0ea"/>
<ellipse cx="107.6" cy="322.6" rx="3.4" ry="5.6" transform="rotate(10 107.6 322.6)" fill="#fdfdfd"/>
<ellipse cx="192" cy="338" rx="7.13" ry="2.77" fill="#000" opacity="0.12"/><path d="M188.44 320.72L188.04 338.00H191.60L192.00 327.20L192.79 338.00H196.36L195.56 320.72Z" fill="#245088"/><path d="M187.64 309.20Q192.00 306.32 196.36 309.20L196.75 322.88H187.25Z" fill="#bfe8ea"/><circle cx="192.00" cy="305.60" r="3.06" fill="#f2c6a0"/><path d="M188.76 305.60A3.24 3.24 0 0 1 195.24 304.88Z" fill="#141a2e"/>
<path d="M189 316L195 315.4L196.4 330L188 331Z" fill="#bfe8ea" />
</g>
<ellipse cx="107.6" cy="322.6" rx="3.4" ry="5.6" transform="rotate(10 107.6 322.6)" fill="#8bbf76"/>
<path d="M104.6 324L108.6 327.6L106.6 329.6L104.6 328Z" fill="#f3d7a4" />
<path d="M127 398.6L232 338L250 327L268 316L369.5 366L350.5 380.4L262 336L240 350L144.4 412.4Z" fill="#41627c" />
<path d="M127 398.6L144.4 412.4V418.6L127 404.6Z" fill="#5a6f78" />
<path d="M144.4 412.4L160 403.4V409L144.4 418.6Z" fill="#34506a" />
<path d="M350.5 380.4L369.5 366V371.4L350.5 386Z" fill="#34506a" />
<path d="M322 366L350.5 380.4V386L322 371.6Z" fill="#34506a" />
<path d="M138 403L222 354.6" fill="none" stroke="#efe9c9" stroke-width="1.7" stroke-dasharray="8 4.4"/>
<path d="M272 323L362 368" fill="none" stroke="#efe9c9" stroke-width="1.7" stroke-dasharray="8.6 4.2"/>
<g id="labgrp">
<path d="M157.5 403.4L270 338L326.4 366.6L213.3 435.6Z" fill="#f3efdf" />
<path d="M157.5 403.4L213.3 435.6L326.4 366.6V370.6L213.3 439.8L157.5 407.4Z" fill="#c3c8b0" />
<path d="M228.6 326L260 310.4V332L228.6 348Z" fill="#cfeaf0" opacity="0.9"/>
<path d="M232.6 340.6C233.6 330 236 326.6 239.6 329.6C242.6 333 244 334 246 331.6C248 330 250 333 251.6 335.6" fill="none" stroke="#e8683a" stroke-width="1"/>
<path d="M250 317.6L258.4 313.4V316.6L250 320.8Z" fill="#6b9be0" />
<path d="M250 322.4L258.4 318.2V321.4L250 325.6Z" fill="#e85a9a" />
<path d="M250 327.4L258.4 323.2V327L250 331.2Z" fill="#e8905a" />
<path d="M232 345L248 337" fill="none" stroke="#e88ab0" stroke-width="0.8"/>
<path d="M278 322L284 316.4L315 331.6V366L309 371.4L278 355Z" fill="#4f7fdb" />
<path d="M309 337L315 331.6V366L309 371.4Z" fill="#5e97e6" />
<path d="M278 322L284 316.4L315 331.6L309 337Z" fill="#f3efdf" />
<path d="M280.6 327.4L306.4 340.6V346L280.6 332.8ZM280.6 336.4L306.4 349.6V355L280.6 341.8ZM280.6 345.4L306.4 358.6V364.6L280.6 351.4Z" fill="#d4dbd4" />
<path d="M283 331.6L287 333.6M291 335.6L296 338.2M299 339.8L303.6 342.2M283 340.6L288 343.2M292 345.2L296 347.2M300 349.4L304 351.4" fill="none" stroke="#f2a8c4" stroke-width="1.6"/>
<path d="M257 342L268 336.6L278.4 342V356L268 361.6L257 356Z" fill="#a9d3f5" />
<path d="M257 342L268 347.4V361.6L257 356Z" fill="#7fb8ee" />
<path d="M262 328L270.6 324V335L262 339.6Z" fill="#f5b8c8" />
<circle cx="264.6" cy="331.6" r="1.3" fill="#4f79c8"/><circle cx="268" cy="329.8" r="1.3" fill="#4f79c8"/><circle cx="264.6" cy="335.6" r="1.3" fill="#4f79c8"/><circle cx="268" cy="333.8" r="1.3" fill="#4f79c8"/>
<path d="M243 352.6L256.6 351L258 360.6L246.6 362.6Z" fill="#2a2f38" />
<ellipse cx="255" cy="384" rx="9" ry="3" fill="#000" opacity="0.1"/><path d="M247.6 368C247.6 362 262.6 362 262.6 368L263.6 380C263.6 386 246.6 386 246.6 380Z" fill="#3f7fc4" />
<ellipse cx="255" cy="366.6" rx="5.6" ry="3.6" fill="#2f66a8"/><circle cx="250" cy="380.6" r="4" fill="#2f66a8"/><circle cx="261" cy="376.6" r="3.4" fill="#2f66a8"/>
<path d="M259 359L261.6 366" fill="none" stroke="#3f7fc4" stroke-width="1.6"/>
<rect x="205.6" y="351" width="8.2" height="43" rx="3.8" fill="#c9d5f3" stroke="#8fa8e0" stroke-width="0.7"/><rect x="206.2" y="358" width="7" height="35.4" rx="3.2" fill="#2b4fb5"/><ellipse cx="209.7" cy="352.6" rx="4.1" ry="1.7" fill="#eef3fc" stroke="#a9bfe8" stroke-width="0.5"/>
<rect x="214.4" y="346" width="8.2" height="42" rx="3.8" fill="#c9d5f3" stroke="#8fa8e0" stroke-width="0.7"/><rect x="215.0" y="353" width="7" height="34.4" rx="3.2" fill="#2b4fb5"/><ellipse cx="218.5" cy="347.6" rx="4.1" ry="1.7" fill="#eef3fc" stroke="#a9bfe8" stroke-width="0.5"/>
<rect x="223.4" y="345" width="8.2" height="41" rx="3.8" fill="#c9d5f3" stroke="#8fa8e0" stroke-width="0.7"/><rect x="224.0" y="352" width="7" height="33.4" rx="3.2" fill="#3f62c8"/><ellipse cx="227.5" cy="346.6" rx="4.1" ry="1.7" fill="#eef3fc" stroke="#a9bfe8" stroke-width="0.5"/>
<rect x="232.4" y="349" width="8.2" height="43" rx="3.8" fill="#c9d5f3" stroke="#8fa8e0" stroke-width="0.7"/><rect x="233.0" y="356" width="7" height="35.4" rx="3.2" fill="#2b4fb5"/><ellipse cx="236.5" cy="350.6" rx="4.1" ry="1.7" fill="#eef3fc" stroke="#a9bfe8" stroke-width="0.5"/>
<rect x="210.4" y="359" width="8.2" height="39" rx="3.8" fill="#c9d5f3" stroke="#8fa8e0" stroke-width="0.7"/><rect x="211.0" y="366" width="7" height="31.4" rx="3.2" fill="#e0457f"/><ellipse cx="214.5" cy="360.6" rx="4.1" ry="1.7" fill="#eef3fc" stroke="#a9bfe8" stroke-width="0.5"/>
<rect x="219.4" y="355" width="8.2" height="41" rx="3.8" fill="#c9d5f3" stroke="#8fa8e0" stroke-width="0.7"/><rect x="220.0" y="362" width="7" height="33.4" rx="3.2" fill="#e89ab8"/><ellipse cx="223.5" cy="356.6" rx="4.1" ry="1.7" fill="#eef3fc" stroke="#a9bfe8" stroke-width="0.5"/>
<rect x="228.4" y="357" width="8.2" height="41" rx="3.8" fill="#c9d5f3" stroke="#8fa8e0" stroke-width="0.7"/><rect x="229.0" y="364" width="7" height="33.4" rx="3.2" fill="#2b4fb5"/><ellipse cx="232.5" cy="358.6" rx="4.1" ry="1.7" fill="#eef3fc" stroke="#a9bfe8" stroke-width="0.5"/>
<ellipse cx="191.7" cy="405.1" rx="15.3" ry="5.4" fill="#000" opacity="0.1"/><path d="M180.3 378.0H203.0V400.8C203.0 405.7 180.3 405.7 180.3 400.8Z" fill="#93bbea" />
<path d="M182.3 384.1H199.0V398.5H182.3Z" fill="#f7c4d0" />
<path d="M183.3 387.9H196.0M183.3 391.7H195.0" fill="none" stroke="#e8708a" stroke-width="1.2"/>
<path d="M179.3 371.2H204.0V378.0C204.0 382.6 179.3 382.6 179.3 378.0Z" fill="#4a86cc" />
<ellipse cx="191.7" cy="371.5" rx="12.3" ry="4.9" fill="#6db4ea"/>
<ellipse cx="217.8" cy="409.9" rx="6.5" ry="2.3" fill="#000" opacity="0.1"/><path d="M213.5 394.0H222.0V407.2C222.0 410.1 213.5 410.1 213.5 407.2Z" fill="#93bbea" />
<path d="M215.5 397.5H218.0V405.9H215.5Z" fill="#f7c4d0" />
<path d="M216.5 399.7H215.0M216.5 401.9H214.0" fill="none" stroke="#e8708a" stroke-width="1.2"/>
<path d="M212.5 390.0H223.0V394.0C223.0 396.6 212.5 396.6 212.5 394.0Z" fill="#4a86cc" />
<ellipse cx="217.8" cy="390.3" rx="5.2" ry="2.9" fill="#6db4ea"/>
<ellipse cx="203.5" cy="416.5" rx="11.8" ry="4.2" fill="#000" opacity="0.1"/><path d="M195 395.0H212V413.0C212 416.9 195 416.9 195 413.0Z" fill="#93bbea" />
<path d="M197 399.8H208V411.2H197Z" fill="#f7c4d0" />
<path d="M198 402.8H205M198 405.8H204" fill="none" stroke="#e8708a" stroke-width="1.2"/>
<path d="M194 389.6H213V395.0C213 398.6 194 398.6 194 395.0Z" fill="#4a86cc" />
<ellipse cx="203.5" cy="389.9" rx="9.5" ry="3.9" fill="#6db4ea"/>
<ellipse cx="232.4" cy="419" rx="7.92" ry="3.08" fill="#000" opacity="0.12"/><path d="M228.44 399.80L228.00 419.00H231.96L232.40 407.00L233.28 419.00H237.24L236.36 399.80Z" fill="#1f4a7c"/><path d="M227.56 387.00Q232.40 383.80 237.24 387.00L237.68 402.20H227.12Z" fill="#7fbf96"/><circle cx="232.40" cy="383.00" r="3.40" fill="#f2c6a0"/><path d="M228.80 383.00A3.60 3.60 0 0 1 236.00 382.20Z" fill="#141a2e"/>
<ellipse cx="278.4" cy="388.4" rx="7.92" ry="3.08" fill="#000" opacity="0.12"/><path d="M274.44 369.20L274.00 388.40H277.96L278.40 376.40L279.28 388.40H283.24L282.36 369.20Z" fill="#fbfcfe"/><path d="M273.56 356.40Q278.40 353.20 283.24 356.40L283.68 371.60H273.12Z" fill="#fbfcfe"/><circle cx="278.40" cy="352.40" r="3.40" fill="#f2c6a0"/><path d="M274.80 352.40A3.60 3.60 0 0 1 282.00 351.60Z" fill="#141a2e"/>
<path d="M275.6 378.6H281V387.6H275.6Z" fill="#245088" />
</g>
<ellipse cx="191.6" cy="306" rx="6.34" ry="2.46" fill="#000" opacity="0.12"/><path d="M188.43 290.64L188.08 306.00H191.25L191.60 296.40L192.30 306.00H195.47L194.77 290.64Z" fill="#1f4a7c"/><path d="M187.73 280.40Q191.60 277.84 195.47 280.40L195.82 292.56H187.38Z" fill="#7fbf96"/><circle cx="191.60" cy="277.20" r="2.72" fill="#f2c6a0"/><path d="M188.72 277.20A2.88 2.88 0 0 1 194.48 276.56Z" fill="#141a2e"/>
<ellipse cx="220.6" cy="313.6" rx="6.14" ry="2.39" fill="#000" opacity="0.12"/><path d="M217.53 298.72L217.19 313.60H220.26L220.60 304.30L221.28 313.60H224.35L223.67 298.72Z" fill="#1f3a5c"/><path d="M216.85 288.80Q220.60 286.32 224.35 288.80L224.69 300.58H216.51Z" fill="#e8783a"/><circle cx="220.60" cy="285.70" r="2.64" fill="#f2c6a0"/><path d="M217.81 285.70A2.79 2.79 0 0 1 223.39 285.08Z" fill="#141a2e"/>
<path d="M215.4 288C214 292 214 298 216 300L219 294Z" fill="#141a2e" />
<ellipse cx="239.6" cy="313.4" rx="6.53" ry="2.54" fill="#000" opacity="0.12"/><path d="M236.33 297.56L235.97 313.40H239.24L239.60 303.50L240.33 313.40H243.59L242.87 297.56Z" fill="#3568b0"/><path d="M235.61 287.00Q239.60 284.36 243.59 287.00L243.96 299.54H235.24Z" fill="#fbfcfe"/><circle cx="239.60" cy="283.70" r="2.81" fill="#f2c6a0"/><path d="M236.63 283.70A2.97 2.97 0 0 1 242.57 283.04Z" fill="#9c5a33"/>
<ellipse cx="264" cy="278.4" rx="5.94" ry="2.31" fill="#000" opacity="0.12"/><path d="M261.03 264.00L260.70 278.40H263.67L264.00 269.40L264.66 278.40H267.63L266.97 264.00Z" fill="#3568b0"/><path d="M260.37 254.40Q264.00 252.00 267.63 254.40L267.96 265.80H260.04Z" fill="#5b97dc"/><circle cx="264.00" cy="251.40" r="2.55" fill="#f2c6a0"/><path d="M261.30 251.40A2.70 2.70 0 0 1 266.70 250.80Z" fill="#8a4a2c"/>
<circle cx="253.6" cy="277" r="3.2" fill="none" stroke="#5a4a3a" stroke-width="0.9"/><path d="M243 270L250 266.6L254 271L252 276H244Z" fill="#8fc9a8"/><path d="M243 274H251V278H243Z" fill="#3568b0"/><circle cx="249.4" cy="264.4" r="2" fill="#e8e4e0"/><ellipse cx="250" cy="279.6" rx="9" ry="2" fill="#000" opacity="0.1"/>
</g>
</svg>
<svg width="997" height="849" viewBox="0 0 997 849"><use href="#labgrp" transform="translate(286 -140.6) scale(0.8)"/></svg>
<svg width="997" height="849" viewBox="0 0 997 849"><use href="#mrigrp" transform="translate(356.5 61.9) scale(0.833)"/></svg>
<svg width="997" height="849" viewBox="0 0 997 849">
<defs>
<symbol id="agent" viewBox="0 0 100 100"><circle cx="50" cy="50" r="50" fill="#fcb03c"/><path d="M50 0A50 50 0 0 1 50 100Z" fill="#ffa425"/><path d="M51 6.5C70 6.5 86.5 18 86.5 38C86.5 54 77 64 64.8 70.5L66 92.8H38.2L34.4 79.8C30 80.6 22 81.8 18.6 79.6C15.8 77.6 15.4 73.5 15.8 70.5L17 65L9 60.4L16.6 46.5C15.6 41 16 35.5 17.6 30.4C22 15 34 6.5 51 6.5Z" fill="#1f8582" stroke="#0f2a6e" stroke-width="2.2" stroke-linejoin="round"/><path d="M46.5 40V92.8M67.2 54V60.3H55.8V92.8" fill="none" stroke="#0f2a6e" stroke-width="2.2"/><circle cx="46.5" cy="30.4" r="11.42" fill="#0f2a6e"/><circle cx="46.5" cy="30.4" r="12.24" fill="none" stroke="#0f2a6e" stroke-width="3.54" stroke-dasharray="5.287 4.326"/><circle cx="46.5" cy="30.4" r="6.6" fill="#fcb03c"/><circle cx="67.2" cy="46" r="8.40" fill="#0f2a6e"/><circle cx="67.2" cy="46" r="9.00" fill="none" stroke="#0f2a6e" stroke-width="2.60" stroke-dasharray="3.888 3.181"/><circle cx="67.2" cy="46" r="4.4" fill="#e2592b"/></symbol>
<symbol id="patient" viewBox="0 0 28 48"><ellipse cx="13.9" cy="40.7" rx="13.9" ry="7.5" fill="#e6e6e9"/><ellipse cx="13.4" cy="40.8" rx="10" ry="4.9" fill="#d6d6db"/><path d="M1.9 31.5C2.2 28 4.6 25 7.6 23.6C12 21.6 19 19.2 23.8 19.4C26 19.6 27.4 22 27.6 26C27.8 31 24 36.4 19 39C16 40.4 13.6 40.7 11.4 40.5C6 40 1.6 36 1.9 31.5Z" fill="#dfe3e4"/><path d="M9.8 13C9.4 18 9.8 22 11.2 24C14 26.2 19.6 25.6 22.2 23C23.4 20 23.4 15 23 10.6Z" fill="#fad9a2"/><path d="M9.6 20.4C10.2 23.2 11 24.6 13 25.6C16 26.6 20 26 22.4 24L22.8 21.2C20 23.6 13 24.2 9.6 20.4Z" fill="#f0c98e"/><path d="M8.2 17C8.6 19 9.6 20.6 10.8 21.2L10.6 17.2L12.8 16.2V13.6L8.2 12.8Z" fill="#2b3553"/><path d="M8 7C8.6 2.6 12.2 0 16 0.2C19.4 0.4 22.4 2.4 23.4 5.2L9 9.2Z" fill="#2b3553"/><path d="M7.4 8.8C12 7.8 19 5.2 23.4 3.2C24.8 6.2 24.8 9.4 23.8 12C20 14.6 12 17 7.8 17C7 14.4 7 11.4 7.4 8.8Z" fill="#f4f4f7" stroke="#e6e6ec" stroke-width="0.5"/><path d="M7.6 13.4C12 13.2 20 10.8 24.4 8.2" fill="none" stroke="#dcdce4" stroke-width="0.7"/><path d="M16.8 13C14.2 11.4 12.8 9.6 13.8 8C14.8 6.8 16.2 7.2 16.8 8.2C17.2 6.8 18.8 5.8 20 6.6C21.4 8 19.8 11 16.8 13Z" fill="#d8303f"/><path d="M8.6 23.4C11.4 27.6 19.6 28 24 22" fill="none" stroke="#9aa0aa" stroke-width="0.6"/></symbol>
<symbol id="darrow" viewBox="0 0 40 40" overflow="visible"><path d="M1 8.2H12.6V2.6L21.2 11.4L12.6 20.6V14.9H1Z" fill="#fff" stroke="#000" stroke-width="1.7" stroke-linejoin="miter"/><path d="M35.2 20.8H23.6V15.4L14.6 24.4L23.6 33.6V28.3H35.2Z" fill="#fff" stroke="#000" stroke-width="1.7" stroke-linejoin="miter"/></symbol>
<symbol id="monitor" viewBox="0 0 45 45" overflow="visible"><path d="M17.8 34.5H27.2C27.4 39 29 41.4 32 42V44.4H13V42C16 41.4 17.6 39 17.8 34.5Z" fill="#3a4668"/><rect x="0" y="0" width="44.8" height="34.8" rx="1.2" fill="#3a4a6b"/><rect x="2.6" y="2.9" width="39.8" height="29.5" fill="#ee3a43"/><path d="M2.6 2.9L42.4 32.4V2.9Z" fill="#f0434b" opacity="0.6"/><path d="M20.5 10.4H24.3V15.6H29.5V19.4H24.3V24.6H20.5V19.4H15.3V15.6H20.5Z" fill="#4ec5ce"/><circle cx="32.60" cy="17.50" r="0.75" fill="#fff"/><circle cx="31.23" cy="22.60" r="0.75" fill="#fff"/><circle cx="27.50" cy="26.33" r="0.75" fill="#fff"/><circle cx="22.40" cy="27.70" r="0.75" fill="#fff"/><circle cx="17.30" cy="26.33" r="0.75" fill="#fff"/><circle cx="13.57" cy="22.60" r="0.75" fill="#fff"/><circle cx="12.20" cy="17.50" r="0.75" fill="#fff"/><circle cx="13.57" cy="12.40" r="0.75" fill="#fff"/><circle cx="17.30" cy="8.67" r="0.75" fill="#fff"/><circle cx="22.40" cy="7.30" r="0.75" fill="#fff"/><circle cx="27.50" cy="8.67" r="0.75" fill="#fff"/><circle cx="31.23" cy="12.40" r="0.75" fill="#fff"/></symbol>
<symbol id="rarrow" viewBox="0 0 20 44" overflow="visible"><path d="M18.6 0.5L0.6 8L5.6 10.6C0.4 18 -1.4 32 12.6 43C5.8 32 6.6 22.5 13.8 15.4L18.6 18Z" fill="#ed1c24"/></symbol>
</defs>
<path d="M397.3 98.4V460.8M397.3 166.5H368.6L352.3 189.6" fill="none" stroke="#000" stroke-width="3.3" stroke-linejoin="miter"/>
<path d="M630.6 98.3V139M630.6 117.2H617.4L613.4 127.5" fill="none" stroke="#000" stroke-width="2.3"/>
<path d="M630.6 214.5V255.8M630.6 233.7H617.4L613.4 244.0" fill="none" stroke="#000" stroke-width="2.3"/>
<path d="M630.6 352V393.6M630.6 370.6H617.4L613.4 380.90000000000003" fill="none" stroke="#000" stroke-width="2.3"/>
<path d="M803.3 156.3V197.6M803.3 177H819.4L822.6 189" fill="none" stroke="#000" stroke-width="2.3"/>
<path d="M803.3 291.8V333M803.3 312H819.4L822.6 324" fill="none" stroke="#000" stroke-width="2.3"/>
<path d="M803.3 411.4V452.4M803.3 431.7H819.4L822.6 443.7" fill="none" stroke="#000" stroke-width="2.3"/>
<use href="#agent" x="824.90" y="161.80" width="39.60" height="39.60"/>
<use href="#agent" x="826.20" y="299.60" width="39.60" height="39.60"/>
<use href="#agent" x="826.00" y="416.60" width="39.60" height="39.60"/>
<use href="#agent" x="463.60" y="538.70" width="62.40" height="62.40"/>
<use href="#patient" x="586.8" y="107" width="21.6" height="37.03"/>
<use href="#patient" x="587" y="228.4" width="21.6" height="37.03"/>
<use href="#patient" x="590" y="361.4" width="21.6" height="37.03"/>
<use href="#patient" x="507.2" y="751.4" width="27.8" height="47.66"/>
<use href="#darrow" x="544.4" y="184.9" width="40" height="40"/>
<use href="#darrow" x="542.2" y="323.3" width="40" height="40"/>
<path d="M877.3 148.8H980.4" stroke="#000" stroke-width="3.4" stroke-dasharray="9.2 2.9" stroke-dashoffset="3" fill="none"/>
<g><rect x="49" y="580.9" width="55.3" height="66.2" rx="1.6" fill="#262626"/><g stroke="#fff" stroke-width="3.1" stroke-linecap="round"><path d="M75.6 589.8H93.6M75.6 598.4H93.6M59.3 607.1H93.6M59.3 615.8H93.6M59.3 624.4H93.6M59.3 636.4H69.4M84.4 636.4H94.5"/></g><circle cx="63.1" cy="590.9" r="3" fill="#fff"/><path d="M57.8 600.4C57.8 596 60 594.6 63.2 594.6C66.4 594.6 68.8 596 68.8 600.4Z" fill="#fff"/></g>
<g fill="none" stroke="#2b2522" stroke-width="1.25"><rect x="250" y="665.1" width="14.4" height="8.9" rx="1.4"/><path d="M232 693.4V682.6C232 676.6 236.6 673 242.4 673C247 673 250.6 675.6 251.8 680.2M232 693.4H263.4V688M232 687.4H240M244.6 693.4V688"/><circle cx="243.6" cy="683.6" r="8.2"/><circle cx="243.6" cy="683.6" r="4.6"/><path d="M237.4 678.2L240.4 680.6M249.8 678.2L246.8 680.6M237.4 689L240.4 686.8"/><rect x="244.2" y="685.4" width="21.2" height="2.6" rx="0.8" fill="#8a7d78"/><circle cx="246.6" cy="683.4" r="1.8" fill="#fbe5d6"/><path d="M249.4 681.2H256.6V685.2H249.4ZM256.6 682.2L263.6 683.6V685.2"/><path d="M234 690.4H236.4M249 690.4H255.6"/></g>
<g><rect x="62" y="792.1" width="44.1" height="38.8" rx="0.8" fill="#000"/><rect x="66.1" y="796.8" width="36" height="26.5" fill="none" stroke="#dde8f5" stroke-width="2"/><rect x="72.3" y="790" width="23.8" height="10.6" rx="2.4" fill="#dde8f5"/><rect x="74.2" y="791.4" width="20" height="7.2" rx="1.2" fill="#000"/><g fill="#dde8f5"><circle cx="72.6" cy="808.8" r="2.7"/><circle cx="72.6" cy="813" r="2.7"/><circle cx="75" cy="810.9" r="3"/><circle cx="95.6" cy="808.8" r="2.7"/><circle cx="95.6" cy="813" r="2.7"/><circle cx="93.2" cy="810.9" r="3"/><path d="M75 808.6H81.4L84 813.4H75ZM84.6 808.6H93.2V813.4H87.6Z"/><rect x="76.8" y="826.6" width="3.4" height="1.8" rx="0.9"/><rect x="82.2" y="826.6" width="3.8" height="1.8" rx="0.9"/><rect x="87.9" y="826.6" width="3.4" height="1.8" rx="0.9"/></g></g>
<path d="M131 720.6H152V749.5H162.2L141.4 770.2L120.8 749.5H131Z" fill="#000"/>
<path d="M612.6 564.6H550V558.7L538.6 569.8L550 581V574.9H612.6Z" fill="#000"/>
<use href="#monitor" x="457.1" y="749.5" width="44.8" height="44.8"/>
<use href="#monitor" x="167.3" y="727.3" width="38.8" height="38.8"/>
<circle cx="496.6" cy="650.1" r="18.6" fill="#3e7dbd"/><rect x="492.8" y="637.6" width="7.5" height="7.2" fill="#fff"/><rect x="492.8" y="646.1" width="7.5" height="15.7" fill="#fff"/>
<circle cx="496.6" cy="699.9" r="18.6" fill="#3e7dbd"/><rect x="492.8" y="687.4" width="7.5" height="7.2" fill="#fff"/><rect x="492.8" y="695.9" width="7.5" height="15.7" fill="#fff"/>
<use href="#rarrow" x="447.2" y="659" width="20" height="44"/>
<use href="#rarrow" x="447.2" y="659" width="20" height="44" transform="rotate(180 498.85 680.75)"/>
<path d="M673.1 617.4H707.3" stroke="#000" stroke-width="3.3" stroke-dasharray="9.6 2.6" fill="none"/>
<path d="M673.1 742.6H707.3" stroke="#000" stroke-width="3.3" stroke-dasharray="9.6 2.6" fill="none"/>
<path d="M723.9 617.4H758.1" stroke="#000" stroke-width="3.3" stroke-dasharray="9.6 2.6" fill="none"/>
<path d="M723.9 742.6H758.1" stroke="#000" stroke-width="3.3" stroke-dasharray="9.6 2.6" fill="none"/>
<path d="M768.8 617.4H803.0" stroke="#000" stroke-width="3.3" stroke-dasharray="9.6 2.6" fill="none"/>
<path d="M768.8 742.6H803.0" stroke="#000" stroke-width="3.3" stroke-dasharray="9.6 2.6" fill="none"/>
<path d="M863.4 618.6H897.6" stroke="#000" stroke-width="3.3" stroke-dasharray="9.6 2.6" fill="none"/>
<path d="M863.4 743.8H897.6" stroke="#000" stroke-width="3.3" stroke-dasharray="9.6 2.6" fill="none"/>
<circle cx="689.9" cy="804.1" r="15.3" fill="#70ad47"/><path d="M679.8 805.6L686.4 812.2L699.8 798.8" fill="none" stroke="#f2f2f2" stroke-width="2.6" stroke-linecap="round" stroke-linejoin="round"/>
<circle cx="741.5" cy="804.1" r="15.3" fill="#c00000"/><path d="M735.1 797.7L747.9 810.5M747.9 797.7L735.1 810.5" fill="none" stroke="#f2f2f2" stroke-width="2.8" stroke-linecap="round"/>
<circle cx="786.5" cy="804.1" r="15.3" fill="#c00000"/><path d="M780.1 797.7L792.9 810.5M792.9 797.7L780.1 810.5" fill="none" stroke="#f2f2f2" stroke-width="2.8" stroke-linecap="round"/>
<circle cx="880" cy="804.1" r="15.3" fill="#c00000"/><path d="M873.6 797.7L886.4 810.5M886.4 797.7L873.6 810.5" fill="none" stroke="#f2f2f2" stroke-width="2.8" stroke-linecap="round"/>
<path d="M916.2 617.6C920 618.4 921.9 620.6 921.9 625V672.6C921.9 677.6 923.6 680.2 927.2 681.2C923.6 682.2 921.9 684.8 921.9 689.2V739.6C921.9 744 920 746.2 916.2 747" fill="none" stroke="#000" stroke-width="1.7" stroke-linejoin="round"/>
<g><path d="M957.4 586.1C965.6 586.1 970.8 592 970.8 599C970.8 604 968.6 607.6 966.2 610.8L965.4 622.6H952V616.2H947C945.4 616.2 944.4 615.2 944.4 613.6V608.4L940.9 607.6L944.4 600.4C944.4 592 949.6 586.1 957.4 586.1Z" fill="#3f4a6e"/><path d="M957 593.2C960.6 593.2 963 596 963 599.2C963 602.4 960.8 604.6 960 609H954C953.2 604.6 951 602.4 951 599.2C951 596 953.4 593.2 957 593.2Z" fill="#f3d95a"/><path d="M953.2 608.4H960.8V613C960.8 614.8 959.2 615.9 957 615.9C954.8 615.9 953.2 614.8 953.2 613Z" fill="#d9d9d9"/><path d="M955.8 608V599.4H958.2V608" fill="none" stroke="#fbf0b8" stroke-width="0.7"/><path d="M957 589.4V591.6M950 592.4L951.6 594.2M964 592.4L962.4 594.2M946.8 599.4H949.4M964.6 599.4H967.2M950.2 606.6L951.8 605M963.8 606.6L962.2 605" stroke="#f3d95a" stroke-width="0.9" fill="none"/></g>
</svg>
<div id="txt">
<div class="t" style="left:16.00px;top:5.08px;font-size:22px;line-height:26.4px;font-weight:700;letter-spacing:0.08px;">a. Method Overview</div>
<div class="t" style="left:238.00px;top:46.57px;font-size:20px;line-height:24.0px;font-weight:700;">DiagGym</div>
<div class="t" style="left:183.00px;top:69.86px;font-size:16px;line-height:19.2px;letter-spacing:0.1px;">Virtual Clinical Environment</div>
<div class="t" style="left:736.50px;top:46.37px;font-size:20px;line-height:24.0px;font-weight:700;">DiagAgent</div>
<div class="t" style="left:676.30px;top:69.86px;font-size:16px;line-height:19.2px;letter-spacing:0.1px;">Diagnostic Trajectory Manager</div>
<div class="t" style="left:441.40px;top:222.66px;font-size:16px;line-height:19.2px;font-weight:700;">Lab Tests</div>
<div class="t" style="left:443.60px;top:397.86px;font-size:16px;line-height:19.2px;font-weight:700;">Radiology</div>
<div class="t" style="left:429.60px;top:417.26px;font-size:16px;line-height:19.2px;font-weight:700;">Examinations</div>
<div class="t n" style="left:640.90px;top:102.44px;font-size:10px;line-height:12.0px;"><b>Chief Complaint:</b> abdominal pain.</div>
<div class="t n" style="left:640.90px;top:114.53px;font-size:10px;line-height:12.0px;"><b>History of Present Illness:</b> It started around</div>
<div class="t n" style="left:640.90px;top:126.53px;font-size:10px;line-height:12.0px;">my belly button and then moved <b>…</b></div>
<div class="t n" style="left:595.10px;top:159.73px;font-size:10px;line-height:12.0px;"><b>Current Diagnosis:</b> The differential diagnosis</div>
<div class="t n" style="left:595.10px;top:171.73px;font-size:10px;line-height:12.0px;">includes appendicitis, gastroenteritis …</div>
<div class="t n" style="left:595.10px;top:183.73px;font-size:10px;line-height:12.0px;"><b>Examination Query:</b> CBC</div>
<div class="t n" style="left:642.60px;top:217.63px;font-size:10px;line-height:12.0px;"><b>Here are my examination results:</b></div>
<div class="t n" style="left:642.60px;top:229.94px;font-size:10px;line-height:12.0px;">Absolute Lymphocyte Count: 0.67 K/µL</div>
<div class="t n" style="left:642.60px;top:241.53px;font-size:10px;line-height:12.0px;">Basophils: 0.3% …</div>
<div class="t n" style="left:594.30px;top:295.84px;font-size:10px;line-height:12.0px;"><b>Current Diagnosis:</b> Infectious process</div>
<div class="t n" style="left:594.30px;top:308.24px;font-size:10px;line-height:12.0px;">support the possibility of appendicitis …</div>
<div class="t n" style="left:594.30px;top:319.54px;font-size:10px;line-height:12.0px;"><b>Examination Query:</b> CT ABD</div>
<div class="t n" style="left:640.80px;top:354.24px;font-size:10px;line-height:12.0px;"><b>Here are my examination results:</b></div>
<div class="t n" style="left:640.80px;top:366.24px;font-size:10px;line-height:12.0px;">GASTROINTESTINAL: The stomach is</div>
<div class="t n" style="left:640.80px;top:378.34px;font-size:10px;line-height:12.0px;">unremarkable. Small bowel loops …</div>
<div class="t n" style="left:598.90px;top:414.34px;font-size:10px;line-height:12.0px;"><b>Final Diagnosis:</b> Appendicitis</div>
<div class="t n" style="left:598.90px;top:426.74px;font-size:10px;line-height:12.0px;"><b>Reason:</b> The patient’s clinical presentation</div>
<div class="t n" style="left:598.90px;top:438.54px;font-size:10px;line-height:12.0px;">of right lower quadrant abdominal pain…</div>
<div class="t" style="left:912.60px;top:104.14px;font-size:12px;line-height:14.4px;font-weight:700;">Initial</div>
<div class="t" style="left:912.60px;top:118.44px;font-size:12px;line-height:14.4px;font-weight:700;">Inquiry</div>
<div class="t" style="left:912.60px;top:161.74px;font-size:12px;line-height:14.4px;font-weight:700;">Examination</div>
<div class="t" style="left:912.60px;top:176.04px;font-size:12px;line-height:14.4px;font-weight:700;">Query</div>
<div class="t" style="left:912.60px;top:221.24px;font-size:12px;line-height:14.4px;font-weight:700;">Examination</div>
<div class="t" style="left:912.60px;top:235.54px;font-size:12px;line-height:14.4px;font-weight:700;">Results</div>
<div class="t" style="left:912.60px;top:297.04px;font-size:12px;line-height:14.4px;font-weight:700;">Examination</div>
<div class="t" style="left:912.60px;top:311.34px;font-size:12px;line-height:14.4px;font-weight:700;">Query</div>
<div class="t" style="left:912.60px;top:357.64px;font-size:12px;line-height:14.4px;font-weight:700;">Examination</div>
<div class="t" style="left:912.60px;top:371.94px;font-size:12px;line-height:14.4px;font-weight:700;">Results</div>
<div class="t" style="left:912.60px;top:418.74px;font-size:12px;line-height:14.4px;font-weight:700;">Final</div>
<div class="t" style="left:912.60px;top:433.04px;font-size:12px;line-height:14.4px;font-weight:700;">Diagnosis</div>
<div class="t" style="left:17.50px;top:478.68px;font-size:22px;line-height:26.4px;font-weight:700;">b. DiagGym Pipeline</div>
<div class="t" style="left:139.90px;top:513.76px;font-size:16px;line-height:19.2px;letter-spacing:0.05px;">Restructured EHRs</div>
<div class="t" style="left:100.10px;top:543.14px;font-size:12px;line-height:14.4px;font-weight:700;">Patient Profile</div>
<div class="t n" style="left:115.40px;top:566.74px;font-size:10px;line-height:12.0px;"><u>Chief complaint</u></div>
<div class="t n" style="left:115.40px;top:584.83px;font-size:10px;line-height:12.0px;"><u>Present medical history</u></div>
<div class="t n" style="left:115.40px;top:603.24px;font-size:10px;line-height:12.0px;"><u>Past medical history</u></div>
<div class="t n" style="left:115.40px;top:621.53px;font-size:10px;line-height:12.0px;"><u>Social history</u></div>
<div class="t n" style="left:115.40px;top:639.53px;font-size:10px;line-height:12.0px;"><u>Allergies</u></div>
<div class="t n" style="left:115.40px;top:657.83px;font-size:10px;line-height:12.0px;"><u>Family history</u></div>
<div class="t n" style="left:115.40px;top:675.74px;font-size:10px;line-height:12.0px;"><u><b>Final diagnosis</b></u></div>
<div class="t" style="left:248.80px;top:542.34px;font-size:12px;line-height:14.4px;font-weight:700;">Past Examinations</div>
<div class="t" style="left:241.50px;top:562.33px;font-size:10px;line-height:12.0px;font-weight:700;">CBC:</div>
<div class="t n" style="left:241.00px;top:581.03px;font-size:10px;line-height:12.0px;letter-spacing:0.1px;"><u>WBC: 6.2 x10^9/L</u> …</div>
<div class="t" style="left:241.50px;top:598.93px;font-size:10px;line-height:12.0px;font-weight:700;">Urinalysis:</div>
<div class="t n" style="left:241.00px;top:617.13px;font-size:10px;line-height:12.0px;letter-spacing:0.1px;"><u>Nitrite: Negative</u></div>
<div class="t" style="left:236.80px;top:650.64px;font-size:12px;line-height:14.4px;font-weight:700;">Examination Query</div>
<div class="t n" style="left:269.60px;top:677.53px;font-size:10px;line-height:12.0px;letter-spacing:0.2px;"><u>CT ABD AND PELVIS</u></div>
<div class="t" style="left:251.60px;top:665.10px;font-size:7.5px;line-height:9.0px;font-weight:700;color:#2b2522;letter-spacing:0.2px;">CT</div>
<div class="t" style="left:236.30px;top:724.67px;font-size:20px;line-height:24.0px;font-weight:700;">DiagGym</div>
<div class="t" style="left:212.60px;top:751.06px;font-size:16px;line-height:19.2px;">Diagnostics World Model</div>
<div class="t" style="left:185.90px;top:784.64px;font-size:12px;line-height:14.4px;font-weight:700;">Examination Results</div>
<div class="t n" style="left:115.70px;top:802.74px;font-size:12px;line-height:14.4px;letter-spacing:0.075px;">Stomach is unremarkable. Small bowel loops</div>
<div class="t n" style="left:115.70px;top:817.54px;font-size:12px;line-height:14.4px;letter-spacing:0.075px;">demonstrate normal caliber, ...</div>
<div class="t" style="left:426.40px;top:478.78px;font-size:22px;line-height:26.4px;font-weight:700;">c. DiagAgent Training</div>
<div class="t" style="left:553.30px;top:517.06px;font-size:16px;line-height:19.2px;font-weight:700;">Policy</div>
<div class="t" style="left:542.60px;top:536.46px;font-size:16px;line-height:19.2px;font-weight:700;">Evolving</div>
<div class="t" style="left:455.30px;top:603.86px;font-size:16px;line-height:19.2px;font-weight:700;">DiagAgent</div>
<div class="t" style="left:709.10px;top:519.86px;font-size:16px;line-height:19.2px;font-weight:700;">End-to-end Multi-turn RL</div>
<div class="t" style="left:672.30px;top:546.66px;font-size:16px;line-height:19.2px;letter-spacing:0.1px;">Different Diagnostic Trajectory Rollouts</div>
<div class="t" style="left:949.6px;top:637px;font-size:16px;line-height:16px;height:16px;transform-origin:0 0;transform:rotate(90deg) translate(0,-13.2px);">Self-explore</div>
<div class="t" style="left:464.00px;top:253.37px;font-size:20px;line-height:24.0px;font-weight:700;">. . .</div>
<div class="t" style="left:729.50px;top:255.87px;font-size:20px;line-height:24.0px;font-weight:700;">. . .</div>
<div class="t" style="left:911.60px;top:256.37px;font-size:20px;line-height:24.0px;font-weight:700;">. . .</div>
<div class="t" style="left:820.40px;top:677.97px;font-size:20px;line-height:24.0px;font-weight:700;">. . .</div>
<div class="t" style="left:686.70px;top:702.60px;font-size:20px;font-weight:700;line-height:20px;height:20px;transform-origin:0 0;transform:rotate(90deg) translate(0,-16.93px);">. . .</div>
<div class="t" style="left:737.50px;top:702.60px;font-size:20px;font-weight:700;line-height:20px;height:20px;transform-origin:0 0;transform:rotate(90deg) translate(0,-16.93px);">. . .</div>
<div class="t" style="left:782.40px;top:702.60px;font-size:20px;font-weight:700;line-height:20px;height:20px;transform-origin:0 0;transform:rotate(90deg) translate(0,-16.93px);">. . .</div>
<div class="t" style="left:876.60px;top:703.80px;font-size:20px;font-weight:700;line-height:20px;height:20px;transform-origin:0 0;transform:rotate(90deg) translate(0,-16.93px);">. . .</div>
</div>
</body>
</html>
